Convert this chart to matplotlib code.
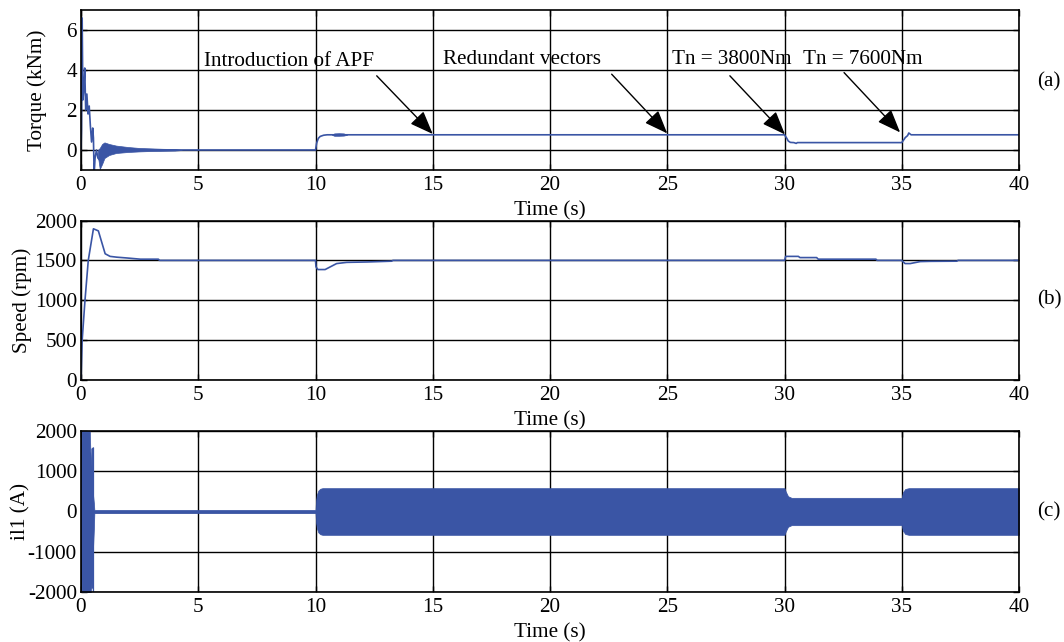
import matplotlib
matplotlib.use('Agg')
import matplotlib.pyplot as plt

plt.rcParams['font.family'] = ['Liberation Serif', 'DejaVu Serif']
plt.rcParams['axes.unicode_minus'] = False
FS = 15.2
plt.rcParams['font.size'] = FS

BLUE = '#3a55a5'

# ---------------- data ----------------
x_ticks = [0, 5, 10, 15, 20, 25, 30, 35, 40]

# (a) electromagnetic torque, kNm
torque_t = [0, 0.02, 0.05, 0.08, 0.12, 0.16, 0.2, 0.25, 0.3, 0.35, 0.4, 0.45,
            0.5, 0.53, 0.56, 0.6, 0.66, 0.72, 0.8, 0.9, 1.0, 1.5, 2.0, 3.0, 4.2,
            10.0, 10.05, 10.12, 10.2, 10.35, 10.5, 30.0, 30.08, 30.16, 30.25,
            30.4, 30.5, 30.55, 35.0, 35.08, 35.15, 35.25, 35.3, 35.4, 40.0]
torque_v = [0, 1.0, 6.6, 2.5, 3.0, 4.1, 2.0, 2.8, 1.8, 2.2, 1.2, 0.4,
            1.1, 0.6, -1.2, -0.4, 0.0, -0.4, -0.5, -0.1, 0.05, 0.04, 0.02, 0.01, 0.0,
            0.0, 0.35, 0.58, 0.68, 0.74, 0.76, 0.76, 0.62, 0.45, 0.38,
            0.37, 0.33, 0.37, 0.37, 0.5, 0.62, 0.72, 0.85, 0.76, 0.76]
torque_band_t = [0.72, 0.8, 0.9, 1.0, 1.2, 1.5, 2.0, 2.5, 3.0, 3.5, 4.0, 4.3]
torque_band_hi = [0.0, 0.1, 0.3, 0.38, 0.3, 0.22, 0.15, 0.1, 0.08, 0.06, 0.05, 0.0]
torque_band_lo = [-0.3, -0.95, -0.7, -0.4, -0.25, -0.15, -0.1, -0.07, -0.05, -0.04, -0.03, 0.0]
torque_ripple_t = [10.7, 10.8, 11.0, 11.2, 11.35]
torque_ripple_hi = [0.76, 0.83, 0.84, 0.83, 0.76]
torque_ripple_lo = [0.76, 0.71, 0.71, 0.72, 0.76]

# (b) rotor speed, rpm
speed_t = [0, 0.05, 0.17, 0.31, 0.53, 0.74, 1.03, 1.24, 1.53, 1.96, 2.53, 3.3, 3.35,
           10.0, 10.02, 10.1, 10.41, 10.9, 11.33, 12.2, 13.25, 13.3,
           30.0, 30.05, 30.59, 30.66, 31.37, 31.44, 33.9, 33.95,
           35.0, 35.14, 35.36, 35.79, 36.22, 37.35, 37.4, 40.0]
speed_v = [0, 500, 1000, 1500, 1896, 1870, 1583, 1550, 1540, 1530, 1515, 1515, 1500,
           1500, 1420, 1385, 1385, 1460, 1475, 1480, 1490, 1500,
           1500, 1550, 1550, 1535, 1535, 1515, 1515, 1500,
           1500, 1460, 1460, 1485, 1488, 1490, 1500, 1500]

# (c) stator phase current il1 envelope, A
current_t = [0, 0.03, 0.36, 0.4, 0.45, 0.5, 0.55, 0.57, 10.0, 10.02, 10.06, 10.12,
             10.2, 10.3, 30.0, 30.05, 30.15, 30.3, 35.0, 35.05, 35.15, 35.3, 40.0]
current_hi = [0, 2300, 2300, 1500, 1100, 500, 200, 40, 40, 250, 420, 520,
              565, 580, 580, 500, 380, 340, 340, 480, 560, 580, 580]
current_lo = [0, -2300, -2300, -2100, -1750, -1100, -400, -40, -40, -250, -420, -520,
              -565, -580, -580, -500, -380, -340, -340, -480, -560, -580, -580]
current_spike_t = [0.47, 0.47, 0.53, 0.53]
current_spike_v = [-1900, 1550, 1580, -2100]

# ---------------- figure ----------------
fig = plt.figure(figsize=(10.64, 6.42), dpi=100)
left, width = 81 / 1064, 938 / 1064
axA = fig.add_axes([left, 1 - 170 / 642, width, 160 / 642])
axB = fig.add_axes([left, 1 - 380 / 642, width, 159.5 / 642])
axC = fig.add_axes([left, 1 - 592 / 642, width, 161 / 642])


def style(ax):
    ax.set_xlim(0, 40)
    ax.set_xticks(x_ticks)
    ax.grid(True, color='black', linewidth=1.0)
    ax.set_axisbelow(True)
    ax.tick_params(direction='in', top=True, right=True, length=4, width=1,
                   labelsize=FS)
    ax.tick_params(axis='x', pad=4.5)
    ax.tick_params(axis='y', pad=3)
    for s in ax.spines.values():
        s.set_linewidth(1.2)
    ax.set_xlabel('Time (s)', fontsize=FS, labelpad=4)


# (a)
axA.plot(torque_t, torque_v, color=BLUE, lw=1.2)
axA.fill_between(torque_band_t, torque_band_lo, torque_band_hi, color=BLUE, lw=0.5)
axA.fill_between(torque_ripple_t, torque_ripple_lo, torque_ripple_hi, color=BLUE, lw=0.5)
axA.set_ylim(-1, 7)
axA.set_yticks([0, 2, 4, 6])
style(axA)
axA.set_ylabel('Torque (kNm)', fontsize=FS, labelpad=14)

axA.text(5.25, 4.4, 'Introduction of APF', fontsize=FS, va='center', ha='left')
axA.text(15.45, 4.5, 'Redundant vectors', fontsize=FS, va='center', ha='left')
axA.text(25.2, 4.5, 'Tn = 3800Nm', fontsize=FS, va='center', ha='left')
axA.text(30.79, 4.5, 'Tn = 7600Nm', fontsize=FS, va='center', ha='left')
arrow = dict(arrowstyle='-|>,head_length=0.9,head_width=0.35', color='black',
             lw=1.0, mutation_scale=16, shrinkA=0, shrinkB=0)
for (tx, ty), (hx, hy) in [((12.61, 3.71), (15.0, 0.80)),
                           ((22.63, 3.79), (25.0, 0.83)),
                           ((27.67, 3.71), (30.02, 0.78)),
                           ((32.54, 3.87), (34.93, 0.88))]:
    axA.annotate('', xy=(hx, hy), xytext=(tx, ty), arrowprops=arrow)

# (b)
axB.plot(speed_t, speed_v, color=BLUE, lw=1.2)
axB.set_ylim(0, 2000)
axB.set_yticks([0, 500, 1000, 1500, 2000])
style(axB)
axB.set_ylabel('Speed (rpm)', fontsize=FS, labelpad=2)

# (c)
axC.fill_between(current_t, current_lo, current_hi, color=BLUE, lw=0.5)
axC.plot(current_spike_t, current_spike_v, color=BLUE, lw=1.0)
axC.set_ylim(-2000, 2000)
axC.set_yticks([-2000, -1000, 0, 1000, 2000])
style(axC)
axC.set_ylabel('il1 (A)', fontsize=FS, labelpad=-2)

fig.text(1049 / 1064, 1 - 82 / 642, '(a)', fontsize=FS, ha='center', va='center')
fig.text(1049 / 1064, 1 - 300 / 642, '(b)', fontsize=FS, ha='center', va='center')
fig.text(1049 / 1064, 1 - 512 / 642, '(c)', fontsize=FS, ha='center', va='center')

fig.savefig('out.png', dpi=100)
